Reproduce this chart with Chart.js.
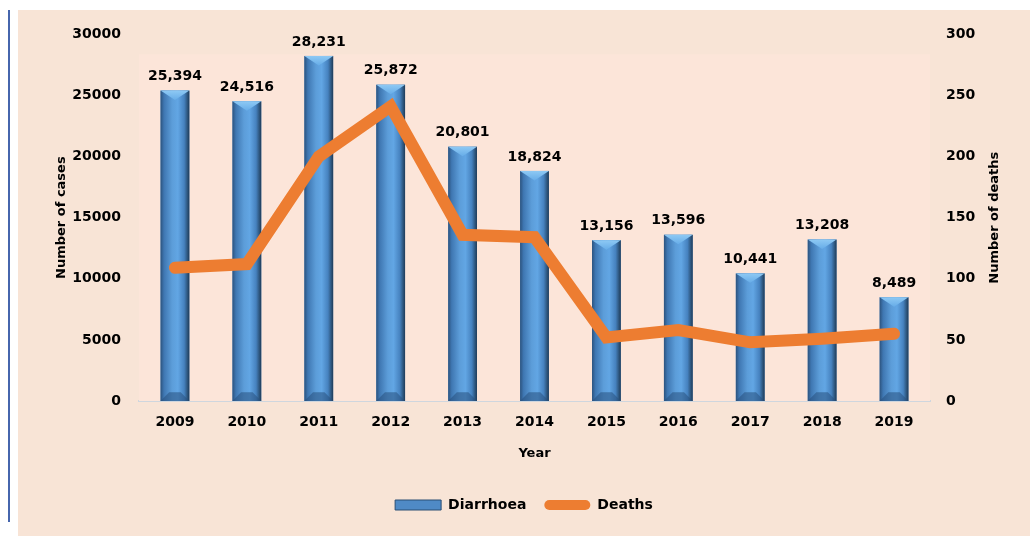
<!DOCTYPE html>
<html>
<head>
<meta charset="utf-8">
<script src="https://cdn.jsdelivr.net/npm/chart.js@4"></script>
<style>
  body { margin: 0; background: #ffffff; }
  #edge { position: absolute; left: 8px; top: 10px; width: 2px; height: 512px; background: #4666ad; }
  #box { position: absolute; left: 18px; top: 10px; width: 1012px; height: 526px; background: #f8e4d6; }
</style>
</head>
<body>
<div id="edge"></div>
<div id="box"><canvas id="chart"></canvas></div>
<script>
// data
const years = ['2009', '2010', '2011', '2012', '2013', '2014', '2015', '2016', '2017', '2018', '2019'];
const cases = [25394, 24516, 28231, 25872, 20801, 18824, 13156, 13596, 10441, 13208, 8489];
const deaths = [109, 112, 200, 241, 136, 134, 52, 58, 48, 51, 55];
const casesTitle = 'Number of cases';
const deathsTitle = 'Number of deaths';

const FONT = '"DejaVu Sans", sans-serif';

// bevelled look for the bars, drawn over the plain bars
const bevelBars = {
    id: 'bevelBars',
    beforeDatasetsDraw(chart) {
        const a = chart.chartArea;
        const ctx = chart.ctx;
        ctx.save();
        ctx.fillStyle = '#fce5d9';
        ctx.fillRect(a.left, a.top + 20, a.right - a.left, a.bottom - a.top - 20);
        ctx.restore();
    },
    afterDatasetDraw(chart, args) {
        if (args.index !== 0) return;
        const ctx = chart.ctx;
        ctx.save();
        args.meta.data.forEach(function(bar) {
            const p = bar.getProps(['x', 'y', 'base', 'width'], true);
            const l = p.x - p.width / 2, r = p.x + p.width / 2;
            const t = p.y, b = p.base;
            const g = ctx.createLinearGradient(l, 0, r, 0);
            g.addColorStop(0, '#2c537e');
            g.addColorStop(0.12, '#3f77b2');
            g.addColorStop(0.4, '#5c9dd9');
            g.addColorStop(0.6, '#62a6e4');
            g.addColorStop(0.82, '#4682bf');
            g.addColorStop(0.93, '#2e577f');
            g.addColorStop(1, '#1f3b58');
            ctx.fillStyle = g;
            ctx.fillRect(l, t, r - l, b - t);
            const e = Math.min(p.width * 0.3, (b - t) / 3);
            // top cap
            const tg = ctx.createLinearGradient(0, t, 0, t + e);
            tg.addColorStop(0, '#8ec9f4');
            tg.addColorStop(1, '#6aafe9');
            ctx.fillStyle = tg;
            ctx.beginPath();
            ctx.moveTo(l, t);
            ctx.lineTo(r, t);
            ctx.lineTo(p.x, t + e * 1.1);
            ctx.closePath();
            ctx.fill();
            // bottom face
            ctx.fillStyle = 'rgba(40, 80, 125, 0.55)';
            ctx.beginPath();
            ctx.moveTo(l, b);
            ctx.lineTo(r, b);
            ctx.lineTo(r - e, b - e);
            ctx.lineTo(l + e, b - e);
            ctx.closePath();
            ctx.fill();
        });
        ctx.restore();
    },
    afterDatasetsDraw(chart) {
        const ctx = chart.ctx;
        const meta = chart.getDatasetMeta(0);
        ctx.save();
        ctx.font = 'bold 14px ' + FONT;
        ctx.fillStyle = '#000';
        ctx.textAlign = 'center';
        ctx.textBaseline = 'bottom';
        meta.data.forEach(function(bar, i) {
            ctx.fillText(cases[i].toLocaleString('en-US'), bar.x, bar.y - 7);
        });
        // right axis title, reading upwards like the left one
        const s = chart.scales.y1;
        ctx.font = 'bold 13px ' + FONT;
        ctx.textBaseline = 'middle';
        ctx.translate(s.right - 35, (chart.chartArea.top + chart.chartArea.bottom) / 2);
        ctx.rotate(-Math.PI / 2);
        ctx.fillText(deathsTitle, 0, 0);
        ctx.restore();
    }
};

new Chart(document.getElementById('chart'), {
    type: 'bar',
    data: {
        labels: years,
        datasets: [{
            label: 'Diarrhoea',
            data: cases,
            yAxisID: 'y',
            backgroundColor: '#4f8ac6',
            categoryPercentage: 1,
            barPercentage: 0.4,
            order: 1
        }, {
            type: 'line',
            label: 'Deaths',
            data: deaths,
            yAxisID: 'y1',
            borderColor: '#ed7d31',
            backgroundColor: '#ed7d31',
            borderWidth: 12,
            borderCapStyle: 'round',
            borderJoinStyle: 'miter',
            pointRadius: 0,
            tension: 0,
            order: 0
        }]
    },
    plugins: [bevelBars],
    options: {
        responsive: true,
        maintainAspectRatio: false,
        animation: false,
        layout: { padding: { top: 9, left: 0, right: 0, bottom: 14 } },
        plugins: {
            tooltip: { enabled: false },
            legend: {
                position: 'bottom',
                labels: {
                    color: '#000',
                    font: { family: FONT, size: 14, weight: 'bold' },
                    boxWidth: 46,
                    boxHeight: 10,
                    padding: 18,
                    useBorderRadius: true,
                    sort: function(a, b) { return a.datasetIndex - b.datasetIndex; },
                    generateLabels: function(chart) {
                        const items = Chart.defaults.plugins.legend.labels.generateLabels(chart);
                        items.forEach(function(it) {
                            if (it.datasetIndex === 0) {
                                it.fillStyle = '#4f8ac6';
                                it.strokeStyle = '#2a4e75';
                                it.lineWidth = 1;
                                it.borderRadius = 0;
                            } else {
                                it.fillStyle = '#ed7d31';
                                it.strokeStyle = '#ed7d31';
                                it.lineWidth = 0;
                                it.borderRadius = 5;
                            }
                        });
                        return items;
                    }
                }
            }
        },
        scales: {
            x: {
                grid: { display: false, drawTicks: false },
                border: { color: '#cfd6de', width: 2 },
                ticks: { color: '#000', font: { family: FONT, size: 14, weight: 'bold' }, padding: 13 },
                title: { display: true, text: 'Year', color: '#000', font: { family: FONT, size: 13, weight: 'bold' }, padding: { top: 0, bottom: 19 } },
                afterFit: function(s) { s.height = 79; }
            },
            y: {
                position: 'left',
                min: 0,
                max: 30000,
                grid: { display: false, drawTicks: false },
                border: { display: false },
                ticks: {
                    stepSize: 5000,
                    color: '#000',
                    padding: 18,
                    font: { family: FONT, size: 14, weight: 'bold', lineHeight: 0.9 },
                    callback: function(v) { return String(v); }
                },
                title: { display: true, text: casesTitle, color: '#000', font: { family: FONT, size: 13, weight: 'bold' }, padding: { top: 36, bottom: 0 } },
                afterFit: function(s) { s.width = 121; }
            },
            y1: {
                position: 'right',
                min: 0,
                max: 300,
                grid: { display: false, drawTicks: false },
                border: { display: false },
                ticks: {
                    stepSize: 50,
                    color: '#000',
                    padding: 16,
                    font: { family: FONT, size: 14, weight: 'bold', lineHeight: 0.9 }
                },
                afterFit: function(s) { s.width = 100; }
            }
        }
    }
});
</script>
</body>
</html>
